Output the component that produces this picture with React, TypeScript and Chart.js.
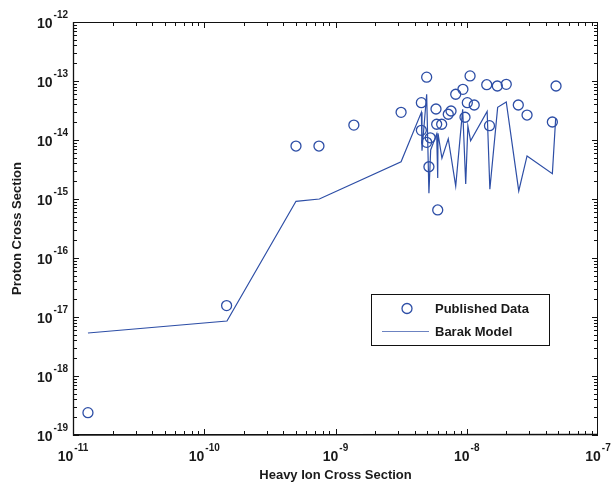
import React, { useEffect, useRef } from "react";
import { Chart, registerables } from "chart.js";

Chart.register(...registerables);

const publishedX = [1.30e-11, 1.48e-10, 5.0e-10, 7.48e-10, 1.38e-9, 3.16e-9, 4.51e-9, 4.51e-9, 4.95e-9, 4.95e-9, 5.27e-9, 5.15e-9, 5.83e-9, 5.90e-9, 6.01e-9, 6.44e-9, 7.23e-9, 7.59e-9, 8.24e-9, 9.35e-9, 9.70e-9, 1.01e-8, 1.06e-8, 1.14e-8, 1.42e-8, 1.49e-8, 1.71e-8, 2.00e-8, 2.47e-8, 2.88e-8, 4.49e-8, 4.79e-8];
const publishedY = [2.39e-19, 1.56e-17, 7.9e-15, 7.9e-15, 1.79e-14, 2.94e-14, 4.29e-14, 1.46e-14, 1.16e-13, 9.14e-15, 1.09e-14, 3.52e-15, 3.35e-14, 1.85e-14, 6.52e-16, 1.85e-14, 2.73e-14, 3.10e-14, 5.96e-14, 7.23e-14, 2.43e-14, 4.29e-14, 1.22e-13, 3.92e-14, 8.65e-14, 1.75e-14, 8.22e-14, 8.79e-14, 3.92e-14, 2.65e-14, 2.02e-14, 8.22e-14];

const modelX = [1.30e-11, 1.49e-10, 5.0e-10, 7.53e-10, 3.16e-9, 4.51e-9, 4.56e-9, 4.95e-9, 5.15e-9, 5.31e-9, 5.90e-9, 6.01e-9, 6.04e-9, 6.47e-9, 7.23e-9, 8.24e-9, 9.31e-9, 9.82e-9, 1.02e-8, 1.07e-8, 1.43e-8, 1.50e-8, 1.72e-8, 2.00e-8, 2.49e-8, 2.88e-8, 4.49e-8, 4.76e-8];
const modelY = [5.36e-18, 8.55e-18, 9.14e-16, 1.0e-15, 4.29e-15, 2.94e-14, 6.59e-15, 5.96e-14, 1.25e-15, 6.77e-15, 1.26e-14, 2.27e-15, 1.30e-14, 4.90e-15, 1.05e-14, 1.66e-15, 3.31e-14, 1.80e-15, 1.73e-14, 9.73e-15, 3.06e-14, 1.46e-15, 3.58e-14, 4.41e-14, 1.37e-15, 5.36e-15, 2.69e-15, 2.33e-14];

const xTickExponents = [-11, -10, -9, -8, -7];
const yTickExponents = [-19, -18, -17, -16, -15, -14, -13, -12];

const seriesNames = ["Published Data", "Barak Model"];
const xTitle = "Heavy Ion Cross Section";
const yTitle = "Proton Cross Section";

const BLUE = "#2d4ea6";
const FONT = "'Liberation Sans', Arial, Helvetica, sans-serif";
const TEXT = "#1a1a1a";

const axesPlugin = {
  id: "matlabAxes",
  afterDraw(chart: any) {
    const { ctx, chartArea } = chart;
    const { left, right, top, bottom } = chartArea;
    const xs = chart.scales.x;
    const ys = chart.scales.y;
    ctx.save();
    ctx.strokeStyle = "#111";
    ctx.lineWidth = 1;
    ctx.strokeRect(left + 0.5, top + 0.5, right - left - 1, bottom - top - 1);
    ctx.lineWidth = 1.3;
    ctx.beginPath();
    ctx.moveTo(left + 0.5, top);
    ctx.lineTo(left + 0.5, bottom);
    ctx.lineTo(right, bottom - 0.5);
    ctx.stroke();
    ctx.lineWidth = 1;
    ctx.beginPath();
    for (let i = 0; i < xTickExponents.length - 1; i++) {
      for (let k = 1; k <= 9; k++) {
        const v = k * Math.pow(10, xTickExponents[i]);
        const px = Math.round(xs.getPixelForValue(v)) + 0.5;
        const len = k === 1 ? 6 : 4;
        ctx.moveTo(px, bottom);
        ctx.lineTo(px, bottom - len);
        ctx.moveTo(px, top);
        ctx.lineTo(px, top + len);
      }
    }
    for (let i = 0; i < yTickExponents.length - 1; i++) {
      for (let k = 1; k <= 9; k++) {
        const v = k * Math.pow(10, yTickExponents[i]);
        const py = Math.round(ys.getPixelForValue(v)) + 0.5;
        const len = k === 1 ? 6 : 4;
        ctx.moveTo(left, py);
        ctx.lineTo(left + len, py);
        ctx.moveTo(right, py);
        ctx.lineTo(right - len, py);
      }
    }
    ctx.stroke();

    ctx.fillStyle = TEXT;
    ctx.textBaseline = "alphabetic";
    const bigFont = `bold 14px ${FONT}`;
    const smallFont = `bold 10px ${FONT}`;
    for (const e of xTickExponents) {
      const px = xs.getPixelForValue(Math.pow(10, e));
      ctx.font = bigFont;
      const w1 = ctx.measureText("10").width;
      ctx.font = smallFont;
      const ex = String(e);
      const w2 = ctx.measureText(ex).width;
      const x0 = px - (w1 + w2 + 1) / 2;
      ctx.font = bigFont;
      ctx.textAlign = "left";
      ctx.fillText("10", x0, bottom + 26);
      ctx.font = smallFont;
      ctx.fillText(ex, x0 + w1 + 1, bottom + 16);
    }
    for (const e of yTickExponents) {
      const py = ys.getPixelForValue(Math.pow(10, e));
      ctx.font = smallFont;
      const ex = String(e);
      const w2 = ctx.measureText(ex).width;
      const xr = left - 5;
      ctx.textAlign = "left";
      ctx.fillText(ex, xr - w2, py - 4);
      ctx.font = bigFont;
      const w1 = ctx.measureText("10").width;
      ctx.fillText("10", xr - w2 - 1 - w1, py + 5.5);
    }

    const ds = chart.data.datasets;
    const lx = 371.5, ly = 294.5, lw = 178, lh = 51;
    ctx.fillStyle = "#fff";
    ctx.fillRect(lx, ly, lw, lh);
    ctx.strokeStyle = "#111";
    ctx.lineWidth = 1;
    ctx.strokeRect(lx, ly, lw, lh);
    ctx.strokeStyle = ds[0].borderColor;
    ctx.lineWidth = 1.3;
    ctx.beginPath();
    ctx.arc(407, 308.5, 5, 0, Math.PI * 2);
    ctx.stroke();
    ctx.strokeStyle = ds[1].borderColor;
    ctx.lineWidth = 1.2;
    ctx.globalAlpha = 0.7;
    ctx.beginPath();
    ctx.moveTo(382, 331.5);
    ctx.lineTo(429, 331.5);
    ctx.stroke();
    ctx.globalAlpha = 1;
    ctx.fillStyle = TEXT;
    ctx.font = `bold 13px ${FONT}`;
    ctx.textAlign = "left";
    ctx.textBaseline = "middle";
    ctx.fillText(ds[0].label, 435, 309);
    ctx.fillText(ds[1].label, 435, 332);
    ctx.restore();
  },
};

export default function App() {
  const ref = useRef<HTMLCanvasElement>(null);
  useEffect(() => {
    if (!ref.current) return;
    const chart = new Chart(ref.current, {
      type: "scatter",
      data: {
        datasets: [
          {
            label: seriesNames[0],
            data: publishedX.map((x, i) => ({ x, y: publishedY[i] })),
            borderColor: BLUE,
            backgroundColor: "rgba(0,0,0,0)",
            pointRadius: 5,
            pointBorderWidth: 1.3,
            showLine: false,
          },
          {
            label: seriesNames[1],
            data: modelX.map((x, i) => ({ x, y: modelY[i] })),
            borderColor: BLUE,
            backgroundColor: BLUE,
            borderWidth: 1.2,
            pointRadius: 0,
            showLine: true,
            tension: 0,
          },
        ],
      },
      options: {
        animation: false,
        responsive: true,
        maintainAspectRatio: false,
        layout: { padding: { top: 22, right: 13, left: 0, bottom: 0 } },
        plugins: { legend: { display: false }, tooltip: { enabled: false } },
        scales: {
          x: {
            type: "logarithmic",
            min: 1e-11,
            max: 1e-7,
            grid: { display: false },
            border: { display: false },
            ticks: { display: false },
            title: {
              display: true,
              text: xTitle,
              color: TEXT,
              font: { family: FONT, size: 13, weight: "bold" },
              padding: { top: 0, bottom: 0 },
            },
            afterFit: (s: any) => {
              s.height = 48;
            },
          },
          y: {
            type: "logarithmic",
            min: 1e-19,
            max: 1e-12,
            grid: { display: false },
            border: { display: false },
            ticks: { display: false },
            title: {
              display: true,
              text: yTitle,
              color: TEXT,
              font: { family: FONT, size: 13, weight: "bold" },
              padding: { top: 10, bottom: 0 },
            },
            afterFit: (s: any) => {
              s.width = 73;
            },
          },
        },
      },
      plugins: [axesPlugin],
    });
    return () => chart.destroy();
  }, []);
  return (
    <div style={{ position: "absolute", left: 0, top: 0, width: 611, height: 483, background: "#fff" }}>
      <canvas ref={ref} />
    </div>
  );
}
